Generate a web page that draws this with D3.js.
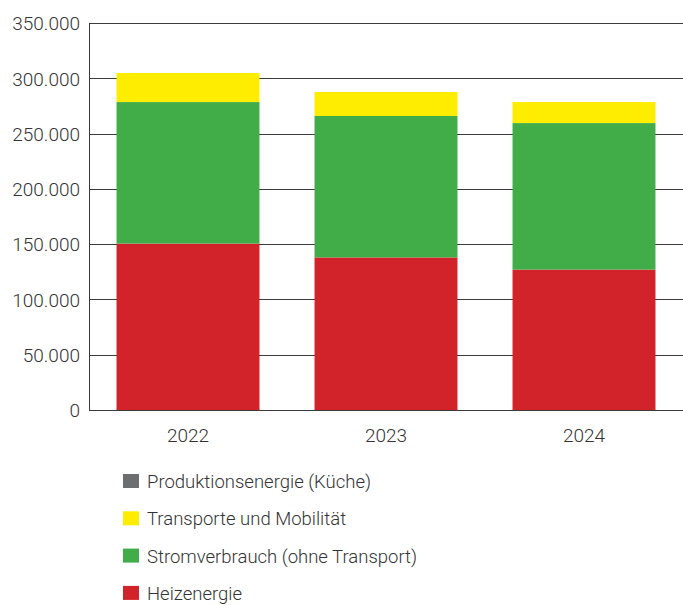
<!DOCTYPE html>
<html>
<head>
<meta charset="utf-8">
<script src="https://cdn.jsdelivr.net/npm/d3@7"></script>
<style>
  body { margin: 0; background: #fff; }
  svg text { font-family: Roboto, "Noto Sans", sans-serif; font-weight: 300; fill: #333; }
</style>
</head>
<body>
<div class="chart"></div>
<script>
// data
const years = ["2022", "2023", "2024"];
const heizenergie = [150500, 138000, 127000];
const stromverbrauch = [128000, 127900, 132500];
const transporte = [26300, 21700, 19000];
const produktion = [0, 0, 0];
const yTicks = [0, 50000, 100000, 150000, 200000, 250000, 300000, 350000];

// stack order bottom -> top, legend shows top -> bottom
const series = [
  { name: "Heizenergie", values: heizenergie, color: "#d2232a" },
  { name: "Stromverbrauch (ohne Transport)", values: stromverbrauch, color: "#41ad49" },
  { name: "Transporte und Mobilität", values: transporte, color: "#ffed00" },
  { name: "Produktionsenergie (Küche)", values: produktion, color: "#6d6e70" }
];

const width = 683, height = 605;
const margin = { top: 23, right: 0, bottom: 195, left: 89 };
const innerW = width - margin.left - margin.right;
const innerH = height - margin.top - margin.bottom;

const svg = d3.select(".chart").append("svg")
  .attr("width", width)
  .attr("height", height);

const g = svg.append("g")
  .attr("transform", "translate(" + margin.left + "," + margin.top + ")");

const x = d3.scaleBand().domain(years).range([0, innerW]).paddingInner(0.278).paddingOuter(0.139);
const y = d3.scaleLinear().domain([0, 350000]).range([innerH, 0]);

const fmt = d => d3.format(",")(d).replace(/,/g, ".");

// gridlines
g.append("g")
  .selectAll("line")
  .data(yTicks.filter(d => d > 0))
  .join("line")
  .attr("x1", 0)
  .attr("x2", innerW)
  .attr("y1", d => Math.round(y(d)) + 0.5)
  .attr("y2", d => Math.round(y(d)) + 0.5)
  .attr("stroke", "#3a3a3a")
  .attr("stroke-width", 1);

// stacked bars
const rows = years.map((yr, i) => {
  const r = { year: yr };
  series.forEach(s => { r[s.name] = s.values[i]; });
  return r;
});
const stack = d3.stack().keys(series.map(s => s.name))(rows);

g.append("g")
  .selectAll("g")
  .data(stack)
  .join("g")
  .attr("fill", (d, i) => series[i].color)
  .selectAll("rect")
  .data(d => d)
  .join("rect")
  .attr("x", d => x(d.data.year))
  .attr("width", x.bandwidth())
  .attr("y", d => y(d[1]))
  .attr("height", d => y(d[0]) - y(d[1]));

// y axis
const yAxis = g.append("g")
  .call(d3.axisLeft(y).tickValues(yTicks).tickFormat(fmt).tickSize(0).tickPadding(9));
yAxis.select(".domain").attr("stroke", "#3a3a3a").attr("d", "M0.5,0V" + innerH);
yAxis.selectAll("text").style("font-size", "19px").attr("fill", "#333").attr("dy", "0.36em");

// x axis
const xAxis = g.append("g")
  .attr("transform", "translate(0," + innerH + ")")
  .call(d3.axisBottom(x).tickSize(0).tickPadding(19));
xAxis.select(".domain").attr("stroke", "#3a3a3a").attr("d", "M0,0.5H" + innerW);
xAxis.selectAll("text").style("font-size", "19px").attr("fill", "#333");

// legend
const legend = svg.append("g")
  .attr("transform", "translate(123,474)");
const legendItems = series.slice().reverse();
const item = legend.selectAll("g")
  .data(legendItems)
  .join("g")
  .attr("transform", (d, i) => "translate(0," + (i * 37.3) + ")");
item.append("rect")
  .attr("width", 16)
  .attr("height", 14)
  .attr("fill", d => d.color);
item.append("text")
  .attr("x", 24)
  .attr("y", 14)
  .style("font-size", "18.5px")
  .text(d => d.name);
</script>
</body>
</html>
